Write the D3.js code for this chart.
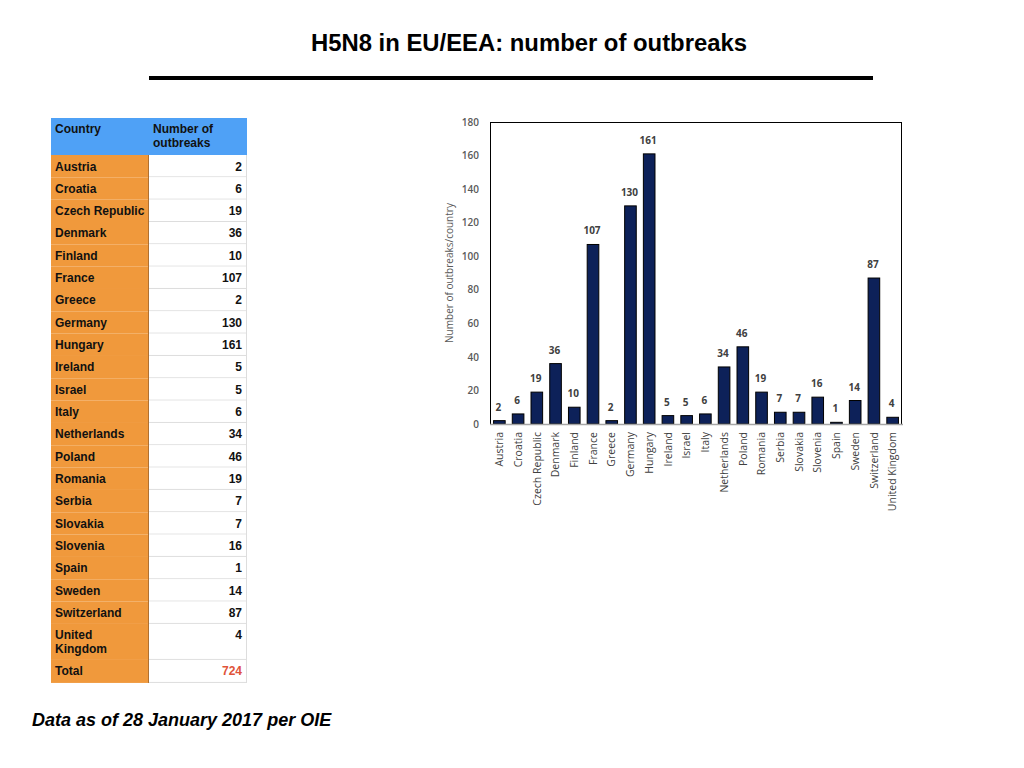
<!DOCTYPE html>
<html>
<head>
<meta charset="utf-8">
<script src="https://cdn.jsdelivr.net/npm/d3@7"></script>
<style>
  body { margin: 0; background: #fff; }
  svg { display: block; }
</style>
</head>
<body>
<div id="vis"></div>
<script>
const countries = ["Austria", "Croatia", "Czech Republic", "Denmark", "Finland", "France",
  "Greece", "Germany", "Hungary", "Ireland", "Israel", "Italy", "Netherlands", "Poland",
  "Romania", "Serbia", "Slovakia", "Slovenia", "Spain", "Sweden", "Switzerland", "United Kingdom"];
const outbreaks = [2, 6, 19, 36, 10, 107, 2, 130, 161, 5, 5, 6, 34, 46, 19, 7, 7, 16, 1, 14, 87, 4];
const yTicks = [0, 20, 40, 60, 80, 100, 120, 140, 160, 180];
const tableHeader = ["Country", "Number of outbreaks"];
const totalLabel = "Total";
const totalValue = 724;

const w = 1024, h = 768;
const svg = d3.select("#vis").append("svg").attr("width", w).attr("height", h);

const sans = "'Liberation Sans', Arial, Helvetica, sans-serif";
const chartFont = "'Open Sans', 'DejaVu Sans', sans-serif";

// title
svg.append("text")
  .attr("x", 529).attr("y", 51)
  .attr("text-anchor", "middle")
  .style("font-family", sans).style("font-weight", "bold").style("font-size", "23px")
  .attr("textLength", 436).attr("lengthAdjust", "spacingAndGlyphs")
  .text("H5N8 in EU/EEA: number of outbreaks");
svg.append("rect").attr("x", 149).attr("y", 76).attr("width", 724).attr("height", 4).attr("fill", "#000");

// table
const tx = 51, col1 = 98, col2 = 98;
const headerH = 37, rowH = 22.33, tallRowH = 36;
const tbl = svg.append("g");
tbl.append("rect").attr("x", tx).attr("y", 118).attr("width", col1 + col2).attr("height", headerH).attr("fill", "#4fa1f6");
tbl.append("text").attr("x", tx + 4).attr("y", 133)
  .style("font-family", sans).style("font-weight", "bold").style("font-size", "12px").attr("fill", "#111")
  .text(tableHeader[0]);
tbl.append("text").attr("x", tx + col1 + 4).attr("y", 133)
  .style("font-family", sans).style("font-weight", "bold").style("font-size", "12px").attr("fill", "#111")
  .selectAll("tspan").data(["Number of", "outbreaks"]).join("tspan")
  .attr("x", tx + col1 + 4).attr("dy", (d, i) => i ? 14 : 0).text(d => d);

const rows = countries.map((c, i) => ({ name: c, value: outbreaks[i] }));
rows.push({ name: totalLabel, value: totalValue, total: true });
let yy = 118 + headerH;
rows.forEach(r => {
  const multi = r.name === "United Kingdom";
  r.y = yy; r.h = multi ? tallRowH : (r.total ? 23 : rowH);
  yy += r.h;
});

const rg = tbl.selectAll("g.row").data(rows).join("g").attr("class", "row");
rg.append("rect").attr("x", tx).attr("y", d => d.y).attr("width", col1).attr("height", d => d.h).attr("fill", "#f0993c");
rg.append("rect").attr("x", tx + col1).attr("y", d => d.y).attr("width", col2).attr("height", d => d.h).attr("fill", "#fff");
rg.append("line").attr("x1", tx + col1).attr("x2", tx + col1 + col2)
  .attr("y1", d => d.y + d.h - 0.5).attr("y2", d => d.y + d.h - 0.5)
  .attr("stroke", "#dddddd");
rg.append("text").attr("x", tx + 4).attr("y", d => d.y + 15.5)
  .style("font-family", sans).style("font-weight", "bold").style("font-size", "12px").attr("fill", "#111")
  .each(function(d) {
    const t = d3.select(this);
    const parts = d.name === "United Kingdom" ? ["United", "Kingdom"] : [d.name];
    t.selectAll("tspan").data(parts).join("tspan").attr("x", tx + 4).attr("dy", (p, i) => i ? 14 : 0).text(p => p);
  });
rg.append("text").attr("x", tx + col1 + col2 - 5).attr("y", d => d.y + 15.5)
  .attr("text-anchor", "end")
  .style("font-family", sans).style("font-weight", "bold").style("font-size", "12px")
  .attr("fill", d => d.total ? "#e0533a" : "#111")
  .text(d => d.value);
tbl.append("line").attr("x1", tx + col1 + col2 - 0.5).attr("x2", tx + col1 + col2 - 0.5)
  .attr("y1", 118 + headerH).attr("y2", yy).attr("stroke", "#dddddd");
tbl.append("line").attr("x1", tx + col1 - 0.5).attr("x2", tx + col1 - 0.5)
  .attr("y1", 118 + headerH).attr("y2", yy).attr("stroke", "#b07030");

// chart
const x0 = 490, x1 = 902, y0 = 424, y1 = 122;
const x = d3.scaleBand().domain(countries).range([x0, x1]).paddingInner(0.38).paddingOuter(0.19);
const y = d3.scaleLinear().domain([0, 180]).range([y0, y1]);

const chart = svg.append("g");
chart.append("rect").attr("x", x0 + 0.5).attr("y", y1 + 0.5).attr("width", x1 - x0 - 1).attr("height", y0 - y1)
  .attr("fill", "none").attr("stroke", "#000").attr("stroke-width", 1);

chart.selectAll("rect.bar").data(rows.filter(r => !r.total)).join("rect").attr("class", "bar")
  .attr("x", d => x(d.name)).attr("width", x.bandwidth())
  .attr("y", d => y(d.value)).attr("height", d => y0 - y(d.value))
  .attr("fill", "#0d2159").attr("stroke", "#000").attr("stroke-width", 1);

chart.append("line").attr("x1", x0).attr("x2", x1 + 1).attr("y1", y0 + 0.5).attr("y2", y0 + 0.5)
  .attr("stroke", "#a6a6a6").attr("stroke-width", 1.5);

chart.selectAll("text.val").data(rows.filter(r => !r.total)).join("text").attr("class", "val")
  .attr("x", d => x(d.name) + x.bandwidth() / 2 - 1).attr("y", d => y(d.value) - 10)
  .attr("text-anchor", "middle")
  .style("font-family", chartFont).style("font-weight", "bold").style("font-size", "10px").attr("fill", "#404040")
  .text(d => d.value);

const yAxis = d3.axisLeft(y).tickValues(yTicks).tickSize(0).tickPadding(11);
chart.append("g").attr("transform", `translate(${x0},0)`).call(yAxis)
  .call(g => g.select(".domain").remove())
  .selectAll("text")
  .style("font-family", chartFont).style("font-weight", "600").style("font-size", "10px").attr("fill", "#595959");

const xAxis = d3.axisBottom(x).tickSize(0).tickPadding(0);
chart.append("g").attr("transform", `translate(0,${y0})`).call(xAxis)
  .call(g => g.select(".domain").remove())
  .selectAll("text")
  .attr("transform", "rotate(-90)")
  .attr("x", -8).attr("y", 0).attr("dy", "0.35em").attr("dx", 0)
  .attr("text-anchor", "end")
  .style("font-family", chartFont).style("font-size", "10.5px").attr("fill", "#404040");

svg.append("text")
  .attr("transform", `translate(453,${(y0 + y1) / 2}) rotate(-90)`)
  .attr("text-anchor", "middle")
  .style("font-family", chartFont).style("font-size", "10px").attr("fill", "#595959")
  .text("Number of outbreaks/country");

// footer
svg.append("text").attr("x", 32).attr("y", 726)
  .style("font-family", sans).style("font-weight", "bold").style("font-style", "italic").style("font-size", "18px")
  .text("Data as of 28 January 2017 per OIE");
</script>
</body>
</html>
